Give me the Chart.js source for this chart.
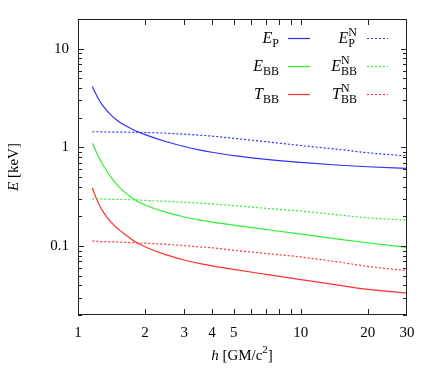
<!DOCTYPE html>
<html>
<head>
<meta charset="utf-8">
<script src="https://cdn.jsdelivr.net/npm/chart.js@4.4.1/dist/chart.umd.min.js"></script>
<style>
  html, body { margin: 0; padding: 0; background: #fff; }
  canvas { display: block; }
</style>
</head>
<body>
<canvas id="chart" width="436" height="382"></canvas>
<script>
// h in GM/c^2
const h = [1.16, 1.2, 1.25, 1.3, 1.4, 1.5, 1.6, 1.8, 2, 2.5, 3, 3.5, 4, 5, 7, 10, 15, 20, 30];

// energies in keV
const eP   = [4.13, 3.52, 2.97, 2.60, 2.144, 1.874, 1.701, 1.485, 1.347, 1.139, 1.021, 0.945, 0.893, 0.824, 0.755, 0.703, 0.659, 0.636, 0.612];
const ePN  = [1.44, 1.44, 1.44, 1.435, 1.43, 1.43, 1.425, 1.42, 1.415, 1.39, 1.36, 1.33, 1.30, 1.235, 1.14, 1.045, 0.95, 0.882, 0.817];
const eBB  = [1.098, 0.930, 0.768, 0.655, 0.506, 0.417, 0.360, 0.295, 0.261, 0.219, 0.197, 0.184, 0.175, 0.163, 0.147, 0.132, 0.117, 0.108, 0.097];
const eBBN = [0.301, 0.300, 0.300, 0.299, 0.298, 0.297, 0.296, 0.294, 0.290, 0.284, 0.278, 0.272, 0.267, 0.257, 0.241, 0.226, 0.206, 0.193, 0.183];
const tBB  = [0.387, 0.316, 0.258, 0.2205, 0.1765, 0.1516, 0.135, 0.111, 0.0984, 0.0814, 0.0722, 0.0666, 0.063, 0.058, 0.0516, 0.0457, 0.0399, 0.0364, 0.0335];
const tBBN = [0.112, 0.112, 0.111, 0.111, 0.110, 0.110, 0.109, 0.108, 0.107, 0.104, 0.101, 0.098, 0.096, 0.0905, 0.084, 0.0775, 0.0685, 0.0622, 0.0564];

const xLabels = [1, 2, 3, 4, 5, 10, 20, 30];
const xMarks  = [2, 3, 4, 5, 6, 7, 8, 9, 10, 20];
const yLabels = [0.1, 1, 10];
const yMinor  = [0.02, 0.03, 0.04, 0.05, 0.06, 0.07, 0.08, 0.09,
                 0.2, 0.3, 0.4, 0.5, 0.6, 0.7, 0.8, 0.9,
                 2, 3, 4, 5, 6, 7, 8, 9, 20];

const BLUE = '#3030ff', GREEN = '#30ee30', RED = '#ff3030';
const SERIF = '"Liberation Serif", "DejaVu Serif", serif';

const pts = arr => h.map((x, i) => ({ x, y: arr[i] }));

function ds(label, arr, color, dotted) {
  return {
    label, data: pts(arr),
    borderColor: color, borderWidth: 1.2,
    borderDash: dotted ? [2, 2] : [],
    pointRadius: 0, fill: false,
    cubicInterpolationMode: 'monotone'
  };
}

// legend entries: main letter, subscript, superscript, column, row
const legendItems = [
  { m: 'E', sub: 'P',  sup: '',  color: BLUE,  dotted: false, col: 0, row: 0 },
  { m: 'E', sub: 'BB', sup: '',  color: GREEN, dotted: false, col: 0, row: 1 },
  { m: 'T', sub: 'BB', sup: '',  color: RED,   dotted: false, col: 0, row: 2 },
  { m: 'E', sub: 'P',  sup: 'N', color: BLUE,  dotted: true,  col: 1, row: 0 },
  { m: 'E', sub: 'BB', sup: 'N', color: GREEN, dotted: true,  col: 1, row: 1 },
  { m: 'T', sub: 'BB', sup: 'N', color: RED,   dotted: true,  col: 1, row: 2 }
];

const decor = {
  id: 'decor',
  afterDatasetsDraw(chart) {
    const { ctx, chartArea: a, scales: { x, y } } = chart;
    ctx.save();

    // frame + inward ticks on all sides
    ctx.strokeStyle = '#222';
    ctx.lineWidth = 1;
    ctx.setLineDash([]);
    ctx.strokeRect(a.left + 0.5, a.top + 0.5, a.right - a.left - 1, a.bottom - a.top - 1);
    ctx.beginPath();
    xMarks.forEach(v => {
      const px = Math.round(x.getPixelForValue(v)) + 0.5;
      ctx.moveTo(px, a.bottom); ctx.lineTo(px, a.bottom - 6);
      ctx.moveTo(px, a.top);    ctx.lineTo(px, a.top + 6);
    });
    yLabels.forEach(v => {
      const py = Math.round(y.getPixelForValue(v)) + 0.5;
      ctx.moveTo(a.left, py);  ctx.lineTo(a.left + 6, py);
      ctx.moveTo(a.right, py); ctx.lineTo(a.right - 6, py);
    });
    yMinor.forEach(v => {
      const py = Math.round(y.getPixelForValue(v)) + 0.5;
      ctx.moveTo(a.left, py);  ctx.lineTo(a.left + 4, py);
      ctx.moveTo(a.right, py); ctx.lineTo(a.right - 4, py);
    });
    ctx.stroke();

    // legend
    ctx.fillStyle = '#000';
    ctx.textBaseline = 'alphabetic';
    const colRight = [279, 357], lineX = [[288, 310], [367, 388]];
    legendItems.forEach(it => {
      const base = 43 + it.row * 28;
      ctx.font = '12px ' + SERIF;
      const sw = Math.max(ctx.measureText(it.sub).width, it.sup ? ctx.measureText(it.sup).width : 0);
      ctx.font = 'italic 16px ' + SERIF;
      const mw = ctx.measureText(it.m).width;
      const x0 = colRight[it.col] - sw - mw;
      ctx.textAlign = 'left';
      ctx.fillText(it.m, x0, base);
      ctx.font = '12px ' + SERIF;
      ctx.fillText(it.sub, x0 + mw, base + 4);
      if (it.sup) ctx.fillText(it.sup, x0 + mw, base - 7);
      ctx.strokeStyle = it.color;
      ctx.lineWidth = 1.2;
      ctx.setLineDash(it.dotted ? [2, 2] : []);
      ctx.beginPath();
      ctx.moveTo(lineX[it.col][0], base - 4.5);
      ctx.lineTo(lineX[it.col][1], base - 4.5);
      ctx.stroke();
    });
    ctx.setLineDash([]);

    // x title: h [GM/c^2]
    ctx.fillStyle = '#000';
    const parts = [
      ['italic 15px ' + SERIF, 'h', 0],
      ['15px ' + SERIF, ' [GM/c', 0],
      ['11px ' + SERIF, '2', -7],
      ['15px ' + SERIF, ']', 0]
    ];
    let tw = 0;
    parts.forEach(p => { ctx.font = p[0]; tw += ctx.measureText(p[1]).width; });
    let cx = 242 - tw / 2;
    parts.forEach(p => {
      ctx.font = p[0];
      ctx.fillText(p[1], cx, 360 + p[2]);
      cx += ctx.measureText(p[1]).width;
    });

    // y title: E [keV]
    ctx.translate(18, 167);
    ctx.rotate(-Math.PI / 2);
    const yp = [['italic 15px ' + SERIF, 'E'], ['15px ' + SERIF, ' [keV]']];
    tw = 0;
    yp.forEach(p => { ctx.font = p[0]; tw += ctx.measureText(p[1]).width; });
    cx = -tw / 2;
    yp.forEach(p => {
      ctx.font = p[0];
      ctx.fillText(p[1], cx, 0);
      cx += ctx.measureText(p[1]).width;
    });
    ctx.restore();
  }
};

new Chart(document.getElementById('chart'), {
  type: 'line',
  data: {
    datasets: [
      ds('E_P', eP, BLUE, false),
      ds('E_P^N', ePN, BLUE, true),
      ds('E_BB', eBB, GREEN, false),
      ds('E_BB^N', eBBN, GREEN, true),
      ds('T_BB', tBB, RED, false),
      ds('T_BB^N', tBBN, RED, true)
    ]
  },
  options: {
    responsive: false,
    animation: false,
    devicePixelRatio: 1,
    layout: { padding: { top: 19, right: 29, left: 0, bottom: 0 } },
    plugins: { legend: { display: false }, tooltip: { enabled: false } },
    scales: {
      x: {
        type: 'logarithmic', min: 1, max: 30,
        afterBuildTicks: s => { s.ticks = xLabels.map(v => ({ value: v })); },
        afterFit: s => { s.height = 67; },
        ticks: { color: '#000', font: { family: SERIF, size: 15 }, padding: 9, autoSkip: false, maxRotation: 0,
                 callback: v => String(v) },
        grid: { display: false, drawTicks: false },
        border: { display: false }
      },
      y: {
        type: 'logarithmic', min: 0.02, max: 20,
        afterBuildTicks: s => { s.ticks = yLabels.map(v => ({ value: v })); },
        afterFit: s => { s.width = 78; },
        ticks: { color: '#000', font: { family: SERIF, size: 15 }, padding: 9, autoSkip: false,
                 callback: v => String(v) },
        grid: { display: false, drawTicks: false },
        border: { display: false }
      }
    }
  },
  plugins: [decor]
});
</script>
</body>
</html>
